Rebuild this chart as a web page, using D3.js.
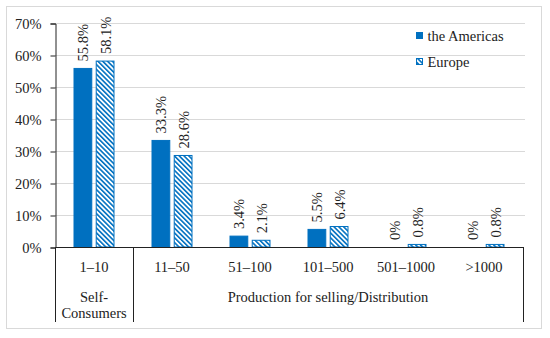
<!DOCTYPE html>
<head>
  <meta charset="utf-8">
  <script src="https://d3js.org/d3.v7.min.js"></script>
  <style>
    body { margin:0; background-color:#fff; }
    svg text { font-family: "Liberation Serif", serif; font-size: 14.5px; fill:#222; }
  </style>
</head>
<body>
<div class="chart-container"></div>
<script>
// data
var categories = ["1\u201310", "11\u201350", "51\u2013100", "101\u2013500", "501\u20131000", ">1000"];
var americas = [55.8, 33.3, 3.4, 5.5, 0, 0];
var europe = [58.1, 28.6, 2.1, 6.4, 0.8, 0.8];
var americasLabels = ["55.8%", "33.3%", "3.4%", "5.5%", "0%", "0%"];
var europeLabels = ["58.1%", "28.6%", "2.1%", "6.4%", "0.8%", "0.8%"];
var yTicks = [0, 10, 20, 30, 40, 50, 60, 70];
var seriesNames = ["the Americas", "Europe"];

var blue = "#0070C0";

var svg = d3.select(".chart-container").append("svg")
  .attr("width", 550)
  .attr("height", 338);

var defs = svg.append("defs");
var pat = defs.append("pattern")
  .attr("id", "hatch")
  .attr("patternUnits", "userSpaceOnUse")
  .attr("width", 3.4)
  .attr("height", 3.4)
  .attr("patternTransform", "rotate(-45)");
pat.append("rect").attr("width", 3.4).attr("height", 3.4).attr("fill", "#fff");
pat.append("rect").attr("width", 1.6).attr("height", 3.4).attr("fill", blue);

// outer frame
svg.append("rect")
  .attr("x", 6.5).attr("y", 6.5)
  .attr("width", 535).attr("height", 322)
  .attr("fill", "none")
  .attr("stroke", "#d9d9d9");

var x0 = d3.scaleBand()
  .domain(categories)
  .range([55, 523]);

var x1 = d3.scaleBand()
  .domain(seriesNames)
  .range([0, 40])
  .paddingInner(0.2);

var y = d3.scaleLinear()
  .domain([0, 70])
  .range([247, 23]);

// gridlines
svg.append("g").selectAll("line")
  .data(yTicks.slice(1))
  .enter().append("line")
  .attr("x1", 55).attr("x2", 525)
  .attr("y1", function(d) { return y(d) + 0.5; })
  .attr("y2", function(d) { return y(d) + 0.5; })
  .attr("stroke", "#d9d9d9");

var yAxis = d3.axisLeft(y)
  .tickValues(yTicks)
  .tickFormat(function(d) { return d + "%"; })
  .tickSize(5)
  .tickPadding(9);

var ya = svg.append("g")
  .attr("transform", "translate(55.5,0.5)")
  .call(yAxis);
ya.attr("font-size", null).attr("font-family", null);
ya.select(".domain").attr("stroke", "#222");
ya.selectAll(".tick line").attr("stroke", "#222");
ya.selectAll("text").attr("fill", "#333").attr("dy", "0.35em");

var rows = categories.map(function(c, i) {
  return { cat: c, vals: [
    { s: seriesNames[0], v: americas[i], lab: americasLabels[i] },
    { s: seriesNames[1], v: europe[i], lab: europeLabels[i] }
  ]};
});

var groups = svg.append("g").selectAll("g")
  .data(rows)
  .enter().append("g")
  .attr("transform", function(d) { return "translate(" + (x0(d.cat) + (x0.bandwidth() - 40) / 2) + ",0)"; });

groups.selectAll("rect")
  .data(function(d) { return d.vals; })
  .enter().append("rect")
  .filter(function(d) { return d.v > 0; })
  .attr("x", function(d) { return x1(d.s); })
  .attr("y", function(d) { return y(d.v); })
  .attr("width", x1.bandwidth())
  .attr("height", function(d) { return y(0) - y(d.v); })
  .attr("fill", function(d) { return d.s == "Europe" ? "url(#hatch)" : blue; })
  .attr("stroke", blue)
  .attr("stroke-width", 1);

// rotated value labels
groups.selectAll("text")
  .data(function(d) { return d.vals; })
  .enter().append("text")
  .attr("transform", function(d) {
    return "translate(" + (x1(d.s) + x1.bandwidth() / 2 + 5.5) + "," + (y(d.v) - 7) + ") rotate(-90)";
  })
  .text(function(d) { return d.lab; });

// x axis line and separators
svg.append("line")
  .attr("x1", 55).attr("x2", 524)
  .attr("y1", 247.5).attr("y2", 247.5)
  .attr("stroke", "#222");
svg.append("g").selectAll("line")
  .data([55.5, 133.5, 523.5])
  .enter().append("line")
  .attr("x1", function(d) { return d; }).attr("x2", function(d) { return d; })
  .attr("y1", 247).attr("y2", 322)
  .attr("stroke", "#222");

svg.append("g").selectAll("text")
  .data(categories)
  .enter().append("text")
  .attr("x", function(d) { return x0(d) + x0.bandwidth() / 2; })
  .attr("y", 272)
  .attr("text-anchor", "middle")
  .text(function(d) { return d; });

svg.append("text").attr("x", 94).attr("y", 302).attr("text-anchor", "middle").text("Self-");
svg.append("text").attr("x", 94).attr("y", 318).attr("text-anchor", "middle").text("Consumers");
svg.append("text").attr("x", 328).attr("y", 302).attr("text-anchor", "middle").text("Production for selling/Distribution");

// legend
var leg = svg.append("g").selectAll("g")
  .data(seriesNames)
  .enter().append("g")
  .attr("transform", function(d, i) { return "translate(416.5," + (32.5 + i * 26) + ")"; });
leg.append("rect")
  .attr("width", 6).attr("height", 6)
  .attr("fill", function(d, i) { return i ? "url(#hatch)" : blue; })
  .attr("stroke", blue);
leg.append("text")
  .attr("x", 11).attr("y", 8)
  .text(function(d) { return d; });
</script>
</body>
